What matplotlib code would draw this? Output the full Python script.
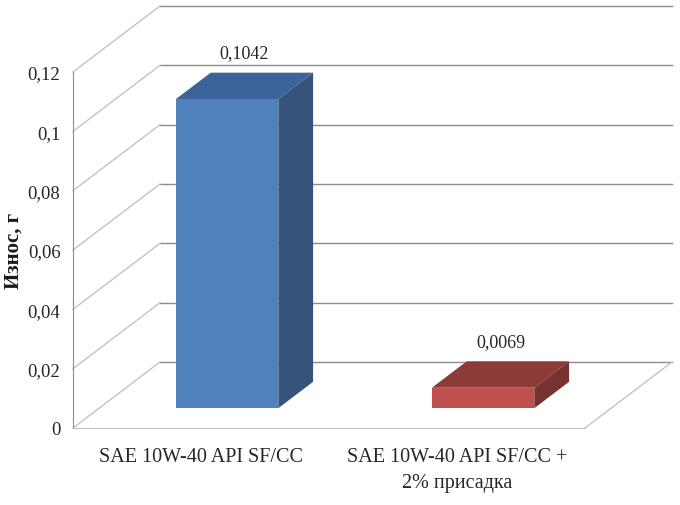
import matplotlib
matplotlib.use("Agg")
import matplotlib.pyplot as plt

# data
categories = ["SAE 10W-40 API SF/CC", "SAE 10W-40 API SF/CC +\n2% присадка"]
wear = [0.1042, 0.0069]
wear_labels = ["0,1042", "0,0069"]
yticks = [0, 0.02, 0.04, 0.06, 0.08, 0.1, 0.12]
ytick_labels = ["0", "0,02", "0,04", "0,06", "0,08", "0,1", "0,12"]

front_col = ["#4F81BD", "#C0504D"]
top_col = ["#3D649A", "#8C3B39"]
side_col = ["#38537B", "#773230"]

plt.rcParams["font.family"] = ["Liberation Serif", "DejaVu Serif"]

fig = plt.figure(figsize=(6.8, 5.06), dpi=100)
ax = fig.add_axes([73 / 680, 77 / 506, 512 / 680, 356 / 506])
ax.set_xlim(0, 2)
ax.set_ylim(0, 0.12)

# fake 3d depth vector (data units)
DX = 87 / 256
DY = 66 / (356 / 0.12)

grid_c = "#8C8C8C"
wall_c = "#C3C3C3"
txt_c = "#262626"

# back wall gridlines and side wall diagonals
for v in yticks:
    ax.plot([DX, 2 + DX], [v + DY, v + DY], color=grid_c, lw=1, clip_on=False, zorder=1)
    ax.plot([0, DX], [v, v + DY], color=wall_c, lw=1, clip_on=False, zorder=1)
# floor right edge
ax.plot([2, 2 + DX], [0, DY], color=wall_c, lw=1, clip_on=False, zorder=1)

# 3d bars
d0, d1 = 0.3, 0.7
w = 0.4
for i, h in enumerate(wear):
    x0 = i + 0.5 - w / 2 + d0 * DX
    x1 = x0 + w
    yb = d0 * DY
    ddx = (d1 - d0) * DX
    ddy = (d1 - d0) * DY
    # side
    ax.fill([x1, x1 + ddx, x1 + ddx, x1], [yb, yb + ddy, yb + h + ddy, yb + h],
            color=side_col[i], lw=0, zorder=3, clip_on=False)
    # top
    ax.fill([x0, x1, x1 + ddx, x0 + ddx], [yb + h, yb + h, yb + h + ddy, yb + h + ddy],
            color=top_col[i], lw=0, zorder=3, clip_on=False)
    # front
    ax.fill([x0, x1, x1, x0], [yb, yb, yb + h, yb + h],
            color=front_col[i], lw=0, zorder=4, clip_on=False)
    ax.annotate(wear_labels[i], (i + 0.5 + 0.5 * DX, h + 0.5 * DY),
                xytext=(0, 33), textcoords="offset pixels",
                ha="center", va="center", fontsize=13, color=txt_c)

ax.set_xticks([0.5, 1.5])
ax.set_xticklabels(categories, fontsize=14.5, color=txt_c, linespacing=1.45)
ax.set_yticks(yticks)
ax.set_yticklabels(ytick_labels, fontsize=13.5, color=txt_c)
ax.tick_params(length=0)
ax.tick_params(axis="y", pad=9)
ax.tick_params(axis="x", pad=14)

for s in ["top", "right"]:
    ax.spines[s].set_visible(False)
ax.spines["left"].set_color(grid_c)
ax.spines["bottom"].set_color(wall_c)
ax.patch.set_alpha(0)

fig.text(14 / 680, 1 - 251 / 506, "Износ, г", rotation=90, ha="center", va="center",
         fontsize=15, fontweight="bold", color="#1a1a1a")

fig.savefig("out.png", dpi=100)
